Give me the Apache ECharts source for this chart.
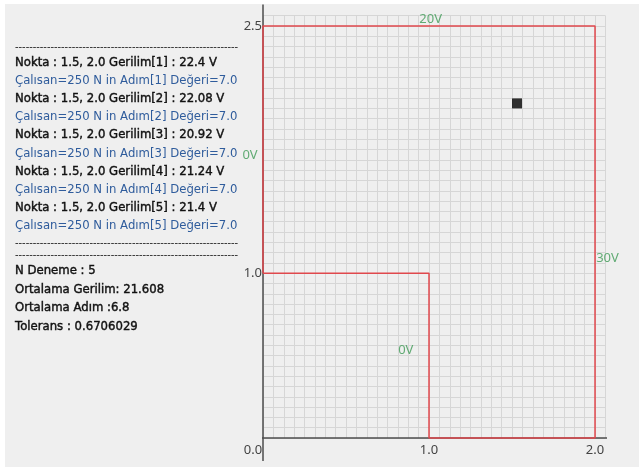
<!DOCTYPE html>
<html>
<head>
<meta charset="utf-8">
<script src="https://cdn.jsdelivr.net/npm/echarts@6/dist/echarts.min.js"></script>
<style>
  html, body { margin: 0; padding: 0; background: #ffffff; }
  #bg { position: absolute; left: 5px; top: 4px; width: 634px; height: 463px; background: #efefef; }
  #chart { position: absolute; left: 0; top: 0; width: 639px; height: 469px; }
</style>
</head>
<body>
<div id="bg"></div>
<div id="chart"></div>
<script>
// ---- data ----
const xLabelValues = [0, 1, 2];
const xTickLabels = ['0.0', '1.0', '2.0'];
const yLabelValues = [1.0, 2.5];
const yTickLabels = ['1.0', '2.5'];
const regionX = [0, 0, 2, 2, 1, 1, 0];
const regionY = [1, 2.5, 2.5, 0, 0, 1, 1];
const pointX = [1.5];
const pointY = [2.0];
const voltLabels = ['20V', '0V', '30V', '0V'];
const voltX = [1.01, -0.078, 2.075, 0.86];
const voltY = [2.54, 1.717, 1.092, 0.534];
const runLines = [
  'Nokta : 1.5, 2.0 Gerilim[1] : 22.4 V',
  'Çalısan=250 N in Adım[1] Değeri=7.0',
  'Nokta : 1.5, 2.0 Gerilim[2] : 22.08 V',
  'Çalısan=250 N in Adım[2] Değeri=7.0',
  'Nokta : 1.5, 2.0 Gerilim[3] : 20.92 V',
  'Çalısan=250 N in Adım[3] Değeri=7.0',
  'Nokta : 1.5, 2.0 Gerilim[4] : 21.24 V',
  'Çalısan=250 N in Adım[4] Değeri=7.0',
  'Nokta : 1.5, 2.0 Gerilim[5] : 21.4 V',
  'Çalısan=250 N in Adım[5] Değeri=7.0'
];
const summaryLines = [
  'N Deneme : 5',
  'Ortalama Gerilim: 21.608',
  'Ortalama Adım :6.8',
  'Tolerans : 0.6706029'
];
const separator = '-'.repeat(63);
// axis line extents (data units)
const xAxisExtent = [-0.12, 2.12];
const yAxisExtent = [-0.14, 2.63];

// ---- styles ----
const FONT = 'Noto Sans';
const txtFont = 'DejaVu Sans';
const gridStep = 0.0625;

function near(v, arr) {
  for (let i = 0; i < arr.length; i++) if (Math.abs(v - arr[i]) < 1e-6) return i;
  return -1;
}

const blackStyle = { fill: '#111111', fontSize: 11.7, fontFamily: txtFont, verticalAlign: 'middle',
  stroke: '#111111', lineWidth: 0.4 };
const blueStyle = { fill: '#2f5c9c', fontSize: 11.7, fontFamily: txtFont, verticalAlign: 'middle' };
const sepStyle = { fill: '#222', fontSize: 11, fontFamily: 'Noto Sans', verticalAlign: 'middle' };

const graphics = [];
const textX = 15;
graphics.push({ type: 'text', x: textX, y: 47, style: Object.assign({ text: separator }, sepStyle) });
runLines.forEach((t, i) => {
  graphics.push({ type: 'text', x: textX, y: 63 + i * 18.1,
    style: Object.assign({ text: t }, i % 2 === 0 ? blackStyle : blueStyle) });
});
graphics.push({ type: 'text', x: textX, y: 243, style: Object.assign({ text: separator }, sepStyle) });
graphics.push({ type: 'text', x: textX, y: 255, style: Object.assign({ text: separator }, sepStyle) });
summaryLines.forEach((t, i) => {
  graphics.push({ type: 'text', x: textX, y: 271 + i * 18.6,
    style: Object.assign({ text: t }, blackStyle) });
});

const chart = echarts.init(document.getElementById('chart'), null, { renderer: 'canvas' });
const option = {
  animation: false,
  backgroundColor: 'transparent',
  grid: { left: 263, top: 15.7, width: 342.4, height: 422.3, containLabel: false },
  xAxis: {
    type: 'value', min: 0, max: 2 + gridStep, interval: gridStep,
    axisLine: { show: false }, axisTick: { show: false },
    splitLine: { show: true, lineStyle: { color: '#d6d6d6', width: 1 } },
    axisLabel: {
      show: true, margin: 6, color: '#444', fontSize: 13, fontFamily: FONT,
      showMinLabel: true, showMaxLabel: true, hideOverlap: false,
      formatter: function (v) {
        const k = near(v, xLabelValues);
        if (k < 0) return '';
        if (k === 0) return '{o|' + xTickLabels[k] + '}';
        return xTickLabels[k];
      },
      rich: { o: { padding: [0, 20, 0, 0], color: '#444', fontSize: 13, fontFamily: FONT } }
    }
  },
  yAxis: {
    type: 'value', min: 0, max: 2.5 + gridStep, interval: gridStep,
    axisLine: { show: false }, axisTick: { show: false },
    splitLine: { show: true, lineStyle: { color: '#d6d6d6', width: 1 } },
    axisLabel: {
      show: true, margin: 1, color: '#444', fontSize: 13, fontFamily: FONT,
      showMinLabel: true, showMaxLabel: true, hideOverlap: false,
      formatter: function (v) {
        const k = near(v, yLabelValues);
        return k < 0 ? '' : yTickLabels[k];
      }
    }
  },
  graphic: graphics,
  series: [
    {
      type: 'line', silent: true, clip: false, symbol: 'none', z: 3,
      lineStyle: { color: '#4d4d4d', width: 1.5 },
      data: [[xAxisExtent[0], 0], [xAxisExtent[1], 0]]
    },
    {
      type: 'line', silent: true, clip: false, symbol: 'none', z: 3,
      lineStyle: { color: '#4d4d4d', width: 1.5 },
      data: [[0, yAxisExtent[0]], [0, yAxisExtent[1]]]
    },
    {
      type: 'line', silent: true, clip: false, symbol: 'none', z: 4,
      lineStyle: { color: '#e0484d', width: 1.5 },
      data: regionX.map((x, i) => [x, regionY[i]])
    },
    {
      type: 'scatter', silent: true, z: 5, symbol: 'rect', symbolSize: 10, symbolOffset: [5, -5],
      itemStyle: { color: '#000' },
      data: pointX.map((x, i) => [x, pointY[i]])
    },
    {
      type: 'scatter', silent: true, clip: false, z: 6, symbolSize: 1,
      itemStyle: { color: 'transparent' },
      label: { show: true, position: 'inside', color: '#3d9a55', fontSize: 13, fontFamily: FONT,
        formatter: p => p.name },
      data: voltLabels.map((n, i) => ({ name: n, value: [voltX[i], voltY[i]] }))
    }
  ]
};
chart.setOption(option);
</script>
</body>
</html>
